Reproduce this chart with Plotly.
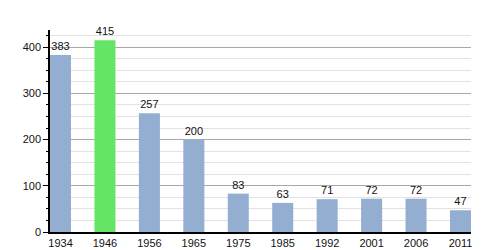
import plotly.graph_objects as go

years = ["1934", "1946", "1956", "1965", "1975", "1985", "1992", "2001", "2006", "2011"]
population = [383, 415, 257, 200, 83, 63, 71, 72, 72, 47]
highlight_year = "1946"

blue = "#93aed0"
green = "#66e466"
colors = [green if y == highlight_year else blue for y in years]
xs = list(range(len(years)))
w = 0.473

fig = go.Figure(go.Bar(
    x=xs, y=population, width=w,
    marker=dict(color=colors, line=dict(width=0)),
    text=[str(v) for v in population], textposition="outside",
    textfont=dict(family="Liberation Sans, Arial", size=11, color="#111"),
    cliponaxis=False,
))

fig.update_layout(
    width=500, height=250,
    margin=dict(l=50, r=29, t=30, b=18, autoexpand=False),
    paper_bgcolor="white", plot_bgcolor="white",
    showlegend=False,
    font=dict(family="Liberation Sans, Arial", size=11, color="#111"),
    xaxis=dict(
        range=[-w / 2, len(years) - 1 + w / 2],
        tickvals=xs, ticktext=years, automargin=False,
        showgrid=False, zeroline=False,
        showline=True, linecolor="black", linewidth=1.5,
        ticks="", tickfont=dict(size=11),
    ),
    yaxis=dict(
        range=[0, 437], automargin=False,
        tickvals=[0, 100, 200, 300, 400],
        showgrid=True, gridcolor="#a8a8a8", gridwidth=1,
        zeroline=False,
        showline=True, linecolor="black", linewidth=1.5,
        ticks="outside", ticklen=5, tickcolor="black", tickwidth=1,
        tickfont=dict(size=11),
        minor=dict(dtick=25, tick0=0, ticks="outside", ticklen=2, tickcolor="black",
                   showgrid=True, gridcolor="#e2e2e2", gridwidth=1),
    ),
)

fig.write_html("out.html")
